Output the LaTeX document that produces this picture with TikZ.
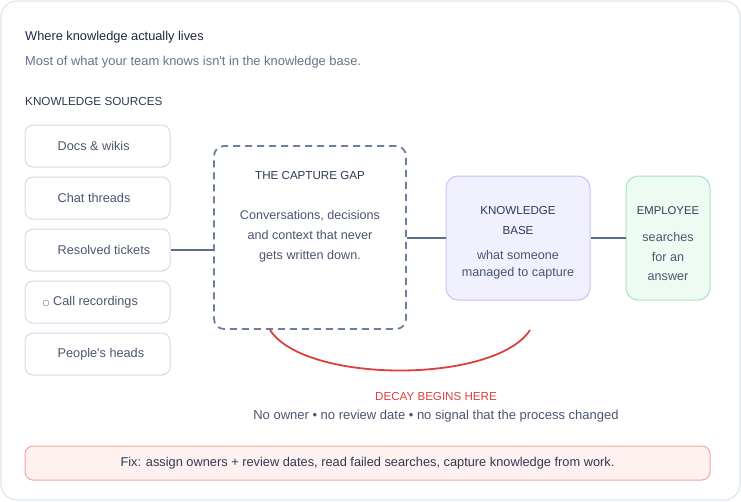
\documentclass[tikz,border=0pt]{standalone}
\usepackage{fontspec}
\setmainfont{Liberation Sans}[Ligatures=TeXOff]
\newfontfamily\dejavu{DejaVu Sans}
\definecolor{framecol}{HTML}{DFE5EF}
\definecolor{titlecol}{HTML}{1F2A44}
\definecolor{subcol}{HTML}{64748B}
\definecolor{headcol}{HTML}{2D3B55}
\definecolor{srctxt}{HTML}{4A5670}
\definecolor{srcborder}{HTML}{D3DBE8}
\definecolor{gapcol}{HTML}{6B7F9E}
\definecolor{conncol}{HTML}{5A6E8C}
\definecolor{kbfill}{HTML}{F1F0FF}
\definecolor{kbborder}{HTML}{C9C2F5}
\definecolor{empfill}{HTML}{EDFBF3}
\definecolor{empborder}{HTML}{A9E2C3}
\definecolor{redcol}{HTML}{DC3F3F}
\definecolor{fixfill}{HTML}{FEF1F0}
\definecolor{fixborder}{HTML}{F2A79E}
\begin{document}
\begin{tikzpicture}[x=1pt,y=-1pt,
  srcbox/.style={draw=srcborder, line width=1pt, rounded corners=8pt, minimum width=145pt, minimum height=42pt, inner sep=0pt, fill=white},
  srctext/.style={anchor=west, inner sep=0pt, text=srctxt, font=\fontsize{12.7}{14}\selectfont},
  gapbox/.style={draw=gapcol, line width=1.8pt, dash pattern=on 7pt off 5pt, rounded corners=10pt, minimum width=192pt, minimum height=183pt, inner sep=0pt},
  headtext/.style={inner sep=0pt, text=headcol, font=\fontsize{11.6}{20}\selectfont, align=center},
  bodytext/.style={inner sep=0pt, text=srctxt, font=\fontsize{12.6}{20}\selectfont, align=center},
  kbbox/.style={draw=kbborder, fill=kbfill, line width=1pt, rounded corners=12pt, minimum width=144pt, minimum height=124pt, inner sep=0pt},
  empbox/.style={draw=empborder, fill=empfill, line width=1pt, rounded corners=12pt, minimum width=84pt, minimum height=124pt, inner sep=0pt},
  conn/.style={draw=conncol, line width=1.8pt},
  decay/.style={draw=redcol, line width=1.8pt},
  fixbox/.style={draw=fixborder, fill=fixfill, line width=1pt, rounded corners=8pt, minimum width=685pt, minimum height=34pt, inner sep=0pt, text=headcol, font=\fontsize{12.8}{14}\selectfont}
]
\useasboundingbox (0,0) rectangle (741,501);
\draw[draw=framecol, line width=1.2pt, fill=white, rounded corners=16pt] (1,1) rectangle (740,500);

% header texts
\node[anchor=west, inner sep=0pt, text=titlecol, font=\fontsize{12.8}{14}\selectfont] (title) at (25,37) {Where knowledge actually lives};
\node[anchor=west, inner sep=0pt, text=subcol, font=\fontsize{12.9}{14}\selectfont] (subtitle) at (25,62) {Most of what your team knows isn't in the knowledge base.};
\node[anchor=west, inner sep=0pt, text=headcol, font=\fontsize{11.7}{14}\selectfont] (srchead) at (25,101) {KNOWLEDGE SOURCES};

% sources
\node[srcbox] (docs) at (97.5,146) {};
\node[srctext] (docsl) at ([xshift=33pt]docs.west) {Docs \& wikis};
\node[srcbox] (chat) at (97.5,198) {};
\node[srctext] (chatl) at ([xshift=33pt]chat.west) {Chat threads};
\node[srcbox] (tick) at (97.5,250) {};
\node[srctext] (tickl) at ([xshift=33pt]tick.west) {Resolved tickets};
\node[srcbox] (call) at (97.5,302) {};
\node[srctext] (calll) at ([xshift=18pt]call.west) {{\dejavu\fontsize{8}{10}\selectfont ○} Call recordings};
\node[srcbox] (heads) at (97.5,354) {};
\node[srctext] (headsl) at ([xshift=33pt]heads.west) {People's heads};

% capture gap
\node[gapbox] (gap) at (310,237.5) {};
\node[headtext] (gaptitle) at (310,176) {THE CAPTURE GAP};
\node[bodytext] (gapbody) at (310,236) {Conversations, decisions\\and context that never\\gets written down.};

% knowledge base
\node[kbbox] (kb) at (518,238) {};
\node[headtext] (kbtitle) at (518,221) {KNOWLEDGE\\BASE};
\node[bodytext, font=\fontsize{12.6}{17}\selectfont] (kbbody) at (518,264.5) {what someone\\managed to capture};

% employee
\node[empbox] (emp) at (668,238) {};
\node[headtext, font=\fontsize{11.3}{14}\selectfont] (emptitle) at (668,211) {EMPLOYEE};
\node[bodytext, font=\fontsize{12.6}{19.5}\selectfont] (empbody) at (668,256.5) {searches\\for an\\answer};

% connectors
\draw[conn] (tick.east) -- (tick.east -| gap.west);
\draw[conn] (kb.west -| gap.east) -- (kb.west);
\draw[conn] (kb.east) -- (emp.west);

% decay arc
\coordinate (arcs) at (270,330);
\coordinate (arce) at (530,330);
\draw[decay] (arcs) .. controls (305,384) and (495,384) .. (arce);

\node[inner sep=0pt, text=redcol, font=\fontsize{11.6}{14}\selectfont] (decaylbl) at (436,396) {DECAY BEGINS HERE};
\node[inner sep=0pt, text=srctxt, font=\fontsize{13}{14}\selectfont] (decaysub) at (436,416) {No owner • no review date • no signal that the process changed};

% fix
\node[fixbox] (fix) at (367.5,463) {Fix: assign owners + review dates, read failed searches, capture knowledge from work.};
\end{tikzpicture}
\end{document}
